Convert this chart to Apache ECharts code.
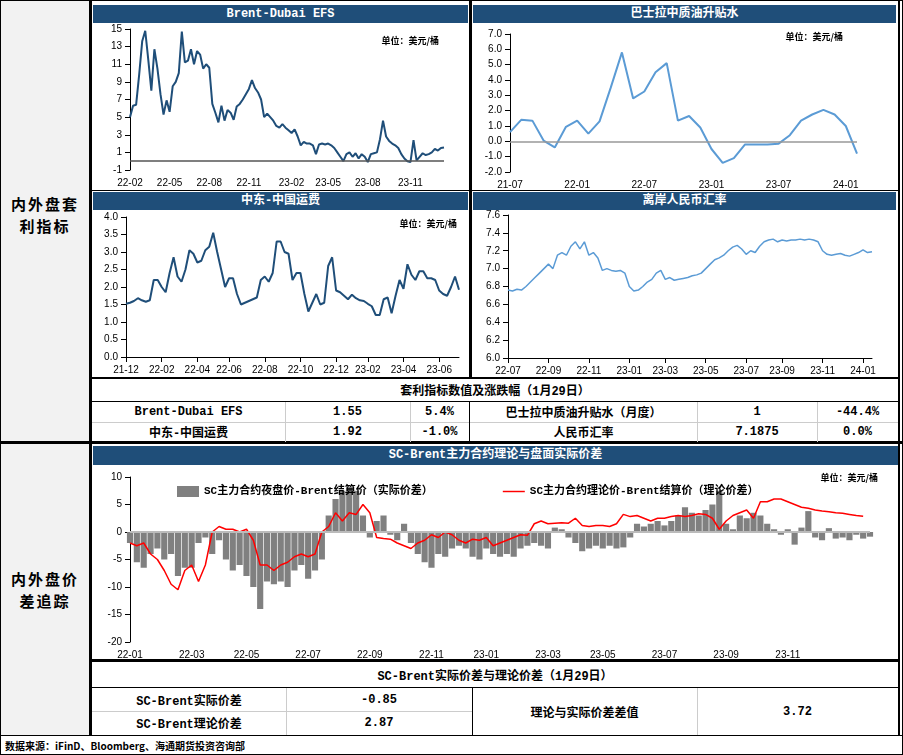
<!DOCTYPE html>
<html><head><meta charset="utf-8">
<script src="https://cdn.jsdelivr.net/npm/echarts@6/dist/echarts.min.js"></script>
<style>
body{margin:0;width:903px;height:755px;position:relative;background:#fff;font-family:"Liberation Mono","Noto Sans CJK SC",monospace;overflow:hidden}
.a{position:absolute;box-sizing:border-box}
.bar{position:absolute;background:#1f4e79;color:#fff;font-weight:bold;font-size:12px;text-align:center;line-height:18px;font-family:"Liberation Mono","Noto Sans CJK SC"}
.t{position:absolute;font-size:12px;font-weight:bold;text-align:center;display:flex;align-items:center;justify-content:center;box-sizing:border-box}
.ch{position:absolute}
.left{position:absolute;left:0;width:90px;font-size:15px;font-weight:bold;text-align:center;line-height:22px;letter-spacing:2px;font-family:"Noto Sans CJK SC"}
</style></head><body>
<div class="a" style="left:0;top:0;width:903px;height:755px;border:1px solid #000"></div>
<div class="a" style="left:1px;top:1px;width:89px;height:734px;background:#f2f2f2"></div>
<div class="a" style="left:89px;top:0;width:3px;height:736px;background:#000"></div>
<div class="a" style="left:469px;top:0;width:3px;height:378px;background:#000"></div>
<div class="a" style="left:92px;top:190px;width:806px;height:1px;background:#000"></div>
<div class="a" style="left:92px;top:377px;width:806px;height:2px;background:#000"></div>
<div class="a" style="left:0;top:441px;width:903px;height:3px;background:#000"></div>
<div class="a" style="left:92px;top:659px;width:806px;height:3px;background:#000"></div>
<div class="a" style="left:0;top:735px;width:903px;height:1px;background:#000"></div>
<div class="a" style="left:898px;top:0;width:2px;height:736px;background:#000"></div>

<div class="left" style="top:193px">内外盘套<br>利指标</div>
<div class="left" style="top:568px">内外盘价<br>差追踪</div>

<div class="bar" style="left:93px;top:5px;width:375px">Brent-Dubai EFS</div>
<div class="bar" style="left:473px;top:5px;width:423px">巴士拉中质油升贴水</div>
<div class="bar" style="left:93px;top:192px;width:375px">中东-中国运费</div>
<div class="bar" style="left:473px;top:192px;width:423px">离岸人民币汇率</div>
<div class="bar" style="left:93px;top:446px;width:805px;height:19px">SC-Brent主力合约理论与盘面实际价差</div>

<div class="ch" id="c1" style="left:92px;top:22px;width:377px;height:168px"></div>
<div class="ch" id="c2" style="left:472px;top:22px;width:426px;height:168px"></div>
<div class="ch" id="c3" style="left:92px;top:210px;width:377px;height:168px"></div>
<div class="ch" id="c4" style="left:472px;top:210px;width:426px;height:168px"></div>
<div class="ch" id="c5" style="left:92px;top:465px;width:806px;height:195px"></div>

<!-- table 1 -->
<div class="t" style="left:92px;top:379px;width:806px;height:23px;border-bottom:1px solid #000">套利指标数值及涨跌幅（1月29日）</div>
<div class="a" style="left:92px;top:422px;width:806px;height:1px;background:#ccc"></div>
<div class="a" style="left:285px;top:402px;width:1px;height:40px;background:#ccc"></div>
<div class="a" style="left:410px;top:402px;width:1px;height:40px;background:#ccc"></div>
<div class="a" style="left:469px;top:402px;width:1px;height:40px;background:#000"></div>
<div class="a" style="left:697px;top:402px;width:1px;height:40px;background:#ccc"></div>
<div class="a" style="left:817px;top:402px;width:1px;height:40px;background:#ccc"></div>
<div class="t" style="left:92px;top:402px;width:193px;height:20px">Brent-Dubai EFS</div>
<div class="t" style="left:285px;top:402px;width:125px;height:20px">1.55</div>
<div class="t" style="left:410px;top:402px;width:59px;height:20px">5.4%</div>
<div class="t" style="left:470px;top:402px;width:227px;height:20px">巴士拉中质油升贴水（月度）</div>
<div class="t" style="left:697px;top:402px;width:120px;height:20px">1</div>
<div class="t" style="left:817px;top:402px;width:81px;height:20px">-44.4%</div>
<div class="t" style="left:92px;top:422px;width:193px;height:20px">中东-中国运费</div>
<div class="t" style="left:285px;top:422px;width:125px;height:20px">1.92</div>
<div class="t" style="left:410px;top:422px;width:59px;height:20px">-1.0%</div>
<div class="t" style="left:470px;top:422px;width:227px;height:20px">人民币汇率</div>
<div class="t" style="left:697px;top:422px;width:120px;height:20px">7.1875</div>
<div class="t" style="left:817px;top:422px;width:81px;height:20px">0.0%</div>

<!-- table 2 -->
<div class="t" style="left:92px;top:662px;width:806px;height:26px;border-bottom:1px solid #000">SC-Brent实际价差与理论价差（1月29日）</div>
<div class="a" style="left:92px;top:711px;width:380px;height:1px;background:#ccc"></div>
<div class="a" style="left:286px;top:688px;width:1px;height:47px;background:#ccc"></div>
<div class="a" style="left:472px;top:688px;width:1px;height:47px;background:#000"></div>
<div class="a" style="left:697px;top:688px;width:1px;height:47px;background:#ccc"></div>
<div class="t" style="left:92px;top:688px;width:194px;height:23px">SC-Brent实际价差</div>
<div class="t" style="left:286px;top:688px;width:186px;height:23px">-0.85</div>
<div class="t" style="left:92px;top:711px;width:194px;height:24px">SC-Brent理论价差</div>
<div class="t" style="left:286px;top:711px;width:186px;height:24px">2.87</div>
<div class="t" style="left:472px;top:688px;width:225px;height:47px">理论与实际价差差值</div>
<div class="t" style="left:697px;top:688px;width:201px;height:47px">3.72</div>
<div class="a" style="left:5px;top:738px;font-size:10px;font-weight:bold;font-family:'Noto Sans CJK SC'">数据来源：iFinD、Bloomberg、海通期货投资咨询部</div>

<script>
// ---- data ----
var efsStart = '2022-02-01';
var efsValues = [5.0,6.3,6.4,9.8, 13.6,14.8,11.5,8.0, 12.7,10.5,7.6,5.3,6.9,
  5.6,8.5,9.0,10.0, 14.7,11.2,11.4,12.7, 11.0,12.5,12.1,10.5,11.0,
  10.6,6.5,5.5,4.4, 6.3,4.6,5.8,5.5, 4.7,6.2,6.5,7.0,7.6,
  8.2,9.2,8.3,7.8, 7.0,5.0,5.4,5.0, 4.6,4.0,3.8,4.2,3.8,
  3.5,3.2,3.6,2.8, 1.8,2.2,2.0,2.0, 1.8,0.8,1.9,2.0,1.9,
  2.0,1.8,1.5,1.0, 0.5,0.0,0.8,1.0, 0.5,0.9,0.3,0.8,0.5,
  -0.1,0.8,0.9,1.0, 2.5,4.6,2.8,2.3, 2.0,1.8,1.5,0.8,0.3,
  0.0,-0.1,2.4,0.1, 0.5,0.9,0.7,0.8, 1.0,1.4,1.2,1.5,1.55];

var basrahMonths = ['21-07','21-08','21-09','21-10','21-11','21-12','22-01','22-02','22-03','22-04','22-05','22-06',
  '22-07','22-08','22-09','22-10','22-11','22-12','23-01','23-02','23-03','23-04','23-05','23-06',
  '23-07','23-08','23-09','23-10','23-11','23-12','24-01','24-02'];
var basrahValues = [0.6,1.4,1.35,0.05,-0.4,0.95,1.35,0.5,1.3,3.5,5.8,2.8,
  3.25,4.5,5.1,1.35,1.65,0.9,-0.5,-1.4,-1.1,-0.2,-0.2,-0.2,
  -0.15,0.4,1.35,1.75,2.05,1.75,1.0,-0.8];

var freightStart = '2021-12-01';
var freightValues = [1.52,1.55,1.6,1.68, 1.62,1.58,1.62,2.2,2.2, 2.0,1.85,2.4,2.85, 2.3,2.15,2.5,3.05,
  2.95,2.7,2.75,3.05, 3.15,3.55,3.0,2.5,2.0, 2.25,2.25,1.8,1.5, 1.55,1.6,1.65,1.7,
  2.2,2.3,2.15,2.4,3.3, 3.3,3.0,2.95,2.2, 2.4,2.4,1.8,1.3, 1.55,1.8,1.5,1.55,2.6,
  2.85,1.9,1.85,1.75, 1.65,1.78,1.68,1.62, 1.6,1.52,1.45,1.2,1.2, 1.65,1.7,1.25,1.75,
  2.2,1.95,2.65,2.35, 2.2,2.45,2.45,2.25,2.25, 2.2,1.9,1.8,1.75, 2.0,2.3,1.92];

var cnhStart = '2022-07-01';
var cnhValues = [6.76,6.75,6.77,6.76, 6.80,6.85,6.90,6.95, 7.00,7.05,7.00,7.15,7.18,
  7.15,7.25,7.30,7.22, 7.30,7.15,7.18,7.12, 6.98,7.00,6.98,6.97,6.98,
  6.95,6.80,6.75,6.76, 6.80,6.85,6.88,6.95, 6.98,6.88,6.90,6.87,6.88,
  6.89,6.90,6.92,6.93, 6.95,7.00,7.05,7.10, 7.12,7.15,7.20,7.24,7.26,
  7.22,7.16,7.20,7.18, 7.25,7.30,7.32,7.33, 7.30,7.32,7.31,7.32,7.32,
  7.33,7.32,7.33,7.32, 7.30,7.20,7.16,7.15, 7.16,7.17,7.15,7.14,7.16,
  7.18,7.21,7.18,7.19];

var scStart = '2022-01-03';
var scActual = [-2,-5.5,-6.5,-4,-3, -5,-4,-8,-6.5, -6.5,-2,-1,-4, -1.5,-5,-7,-6,
  -8,-10,-14,-9,-9.5, -9,-10,-7,-6, -8.5,-7,-5,3, 6,7.5,8,7.5,3,
  -1,2,3,-0.5, -1.5,1.5,-2,-4,-5.5, -6.5,-4,-4.5,-3, -2.5,-3,-4.5,-5,
  -3,-4,-4.5,-4,-4.5, -3,-2.5,-2,-2.5, -3,0.8,0.5,-1, -2,-3.5,-3,-2.5,
  -3,-2.5,-3,-2.8,-1, 1.5,1,1.5,2, 1.2,2,3,4.5,3.5, 3,4,5,7.5,
  1.5,0.5,3,2.5, 3.5,3,1.5,0.5,-0.5, 0.5,-2.3,0.8,3.8, -1,-1.5,0.7,-1.2,
  -1,-1.5,-0.5,-1.2,-0.85];
var scTheory = [-2,-2.5,-2,-4,-5, -7,-9.5,-10.5,-7, -6,-9,-6,0, 1,0.5,0.5,0,
  0.5,-1.5,-6,-6,-7, -6,-5.5,-4.5,-4, -4.5,-4,0,1, 3.5,2,3.5,3.2,5,
  3.5,-1,-1.2,-1.3, -2,-2.5,-3,-2,-1.5, -0.5,-1,0,-0.5, -1.5,-2,-1.3,-1.5,
  -1,-2.5,-2,-1.5,-1, -0.5,-0.6,1.5,2, 1.5,1.6,1.7,1.6, 2.5,1.2,1.0,1.2,
  1.2,1.0,1.5,3.2,2.8, 3.0,2.5,2.0,2.5, 2.5,2.8,3.0,2.8,3.0, 3.3,3.2,2.5,0.5,
  2.0,3.0,3.5,4.0, 2.5,5.5,5.5,6.0,6.0, 5.5,5.0,4.5,4.3, 4.0,3.8,3.7,3.5,
  3.4,3.2,3.0,2.87];

// ---- helpers ----
function weeks(start, n) {
  var d = new Date(start + 'T00:00:00Z'), out = [];
  for (var i = 0; i < n; i++) {
    out.push(d.toISOString().slice(0, 10));
    d = new Date(d.getTime() + 7 * 864e5);
  }
  return out;
}
function monthLabelFn(cats, ok) {
  return function (i) {
    var m = +cats[i].slice(5, 7);
    if (i > 0 && cats[i - 1].slice(5, 7) === cats[i].slice(5, 7)) return false;
    return ok(m);
  };
}
var FONT = '"Liberation Mono","Noto Sans CJK SC",monospace';
var lab = {color: '#000', fontSize: 10, fontFamily: 'Liberation Sans'};
function yy(s) { return s.slice(2, 7); }
function unitText(right, top) {
  return {type: 'text', right: right, top: top,
    style: {text: '单位：美元/桶', font: 'bold 9px "Noto Sans CJK SC"', fill: '#000'}};
}
function zeroLine(color) {
  return {silent: true, symbol: 'none', label: {show: false},
    lineStyle: {color: color, type: 'solid', width: 1.5}, data: [{yAxis: 0}]};
}
function timeChart(id, cats, vals, color, lw, grid, yopt, showFn, opts) {
  var ch = echarts.init(document.getElementById(id));
  ch.setOption({
    animation: false,
    grid: grid,
    graphic: opts.unit ? [unitText(opts.unit[0], opts.unit[1])] : [],
    xAxis: {type: 'category', data: cats, boundaryGap: false,
      axisLine: {show: opts.xline, lineStyle: {color: '#000'}},
      axisTick: {show: opts.xline, interval: showFn, inside: false, lineStyle: {color: '#000'}},
      axisLabel: Object.assign({interval: showFn, formatter: yy, hideOverlap: false}, lab)},
    yAxis: Object.assign({type: 'value', splitLine: {show: false},
      axisLine: {show: true, lineStyle: {color: '#000'}},
      axisTick: {show: true, lineStyle: {color: '#000'}}}, yopt,
      {axisLabel: Object.assign({}, lab, yopt.axisLabel || {})}),
    series: [{type: 'line', data: vals, showSymbol: false, lineStyle: {color: color, width: lw},
      markLine: opts.zero ? zeroLine(opts.zero) : undefined}]
  });
}

// chart 1
var efsCats = weeks(efsStart, efsValues.length);
timeChart('c1', efsCats, efsValues, '#1f4e79', 2,
  {left: 38, right: 25, top: 7, bottom: 20},
  {min: -1, max: 15, interval: 2},
  monthLabelFn(efsCats, function (m) { return (m - 2) % 3 === 0; }),
  {unit: [30, 14], zero: '#555', xline: false});

// chart 2
(function () {
  var ch = echarts.init(document.getElementById('c2'));
  ch.setOption({
    animation: false,
    grid: {left: 38, right: 41, top: 12, bottom: 17},
    graphic: [unitText(55, 10)],
    xAxis: {type: 'category', data: basrahMonths, boundaryGap: false,
      axisLine: {show: false}, axisTick: {show: false},
      axisLabel: Object.assign({interval: 5}, lab)},
    yAxis: {type: 'value', min: -2, max: 7, interval: 1, splitLine: {show: false},
      axisLine: {show: true, lineStyle: {color: '#000'}}, axisTick: {show: true},
      axisLabel: Object.assign({formatter: function (v) { return v.toFixed(1); }}, lab)},
    series: [{type: 'line', data: basrahValues, showSymbol: false,
      lineStyle: {color: '#5b9bd5', width: 2}, markLine: zeroLine('#999')}]
  });
})();

// chart 3
var frCats = weeks(freightStart, freightValues.length);
timeChart('c3', frCats, freightValues, '#1f4e79', 2,
  {left: 34, right: 10, top: 7, bottom: 21},
  {min: 0, max: 4, interval: 0.5, axisLabel: {formatter: function (v) { return v.toFixed(1); }}},
  monthLabelFn(frCats, function (m) { return m % 2 === 0; }),
  {unit: [12, 9], xline: true});

// chart 4
var cnhCats = weeks(cnhStart, cnhValues.length);
timeChart('c4', cnhCats, cnhValues, '#5b9bd5', 1.5,
  {left: 36, right: 26, top: 3, bottom: 20},
  {min: 6.0, max: 7.6, interval: 0.2, axisLabel: {formatter: function (v) { return v.toFixed(1); }}},
  monthLabelFn(cnhCats, function (m) { return m % 2 === 1; }),
  {xline: true});

// chart 5
(function () {
  var cats = weeks(scStart, scActual.length);
  var fn = monthLabelFn(cats, function (m) { return m % 2 === 1; });
  var ch = echarts.init(document.getElementById('c5'));
  ch.setOption({
    animation: false,
    grid: {left: 38, right: 28, top: 12, bottom: 18},
    graphic: [unitText(20, 8)],
    legend: {top: 16, left: 80, itemGap: 70, itemWidth: 22, itemHeight: 11,
      textStyle: {fontSize: 11, fontWeight: 'bold', fontFamily: FONT, color: '#000'},
      data: [{name: 'SC主力合约夜盘价-Brent结算价（实际价差）', icon: 'rect'},
             {name: 'SC主力合约理论价-Brent结算价（理论价差）', icon: 'path://M0,5L30,5L30,7L0,7Z'}]},
    xAxis: {type: 'category', data: cats, boundaryGap: false,
      axisLine: {show: false}, axisTick: {show: false},
      axisLabel: Object.assign({interval: fn, formatter: yy, showMaxLabel: false}, lab)},
    yAxis: {type: 'value', min: -20, max: 10, interval: 5, splitLine: {show: false},
      axisLine: {show: true, lineStyle: {color: '#000'}}, axisTick: {show: true},
      axisLabel: lab},
    series: [
      {name: 'SC主力合约夜盘价-Brent结算价（实际价差）', type: 'bar', data: scActual,
        barWidth: '90%', itemStyle: {color: '#808080'},
        markLine: {silent: true, symbol: 'none', label: {show: false},
          lineStyle: {color: '#bbb', type: 'solid', width: 2}, data: [{yAxis: 0}]}},
      {name: 'SC主力合约理论价-Brent结算价（理论价差）', type: 'line', data: scTheory,
        showSymbol: false, lineStyle: {color: '#ff0000', width: 1.5}, itemStyle: {color: '#ff0000'}}
    ]
  });
})();
</script>
</body></html>
